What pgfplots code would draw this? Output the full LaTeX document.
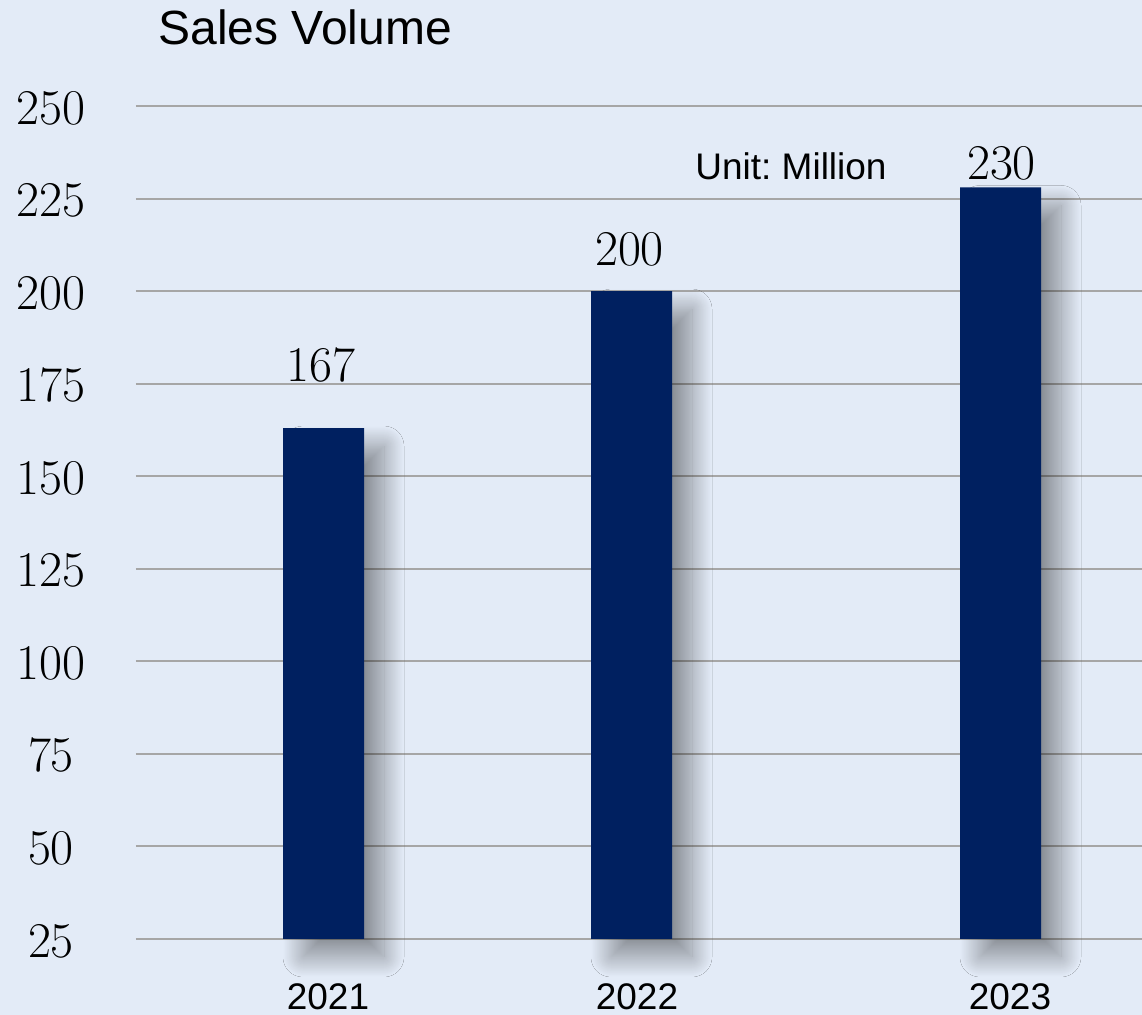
\documentclass[border=0pt]{standalone}
\usepackage{fix-cm}
\usepackage{fontspec}
\setmainfont{Liberation Sans}
\usepackage{pgfplots}
\pgfplotsset{compat=1.18}
\usetikzlibrary{shadows.blur}
\definecolor{bgblue}{HTML}{E3EBF7}
\definecolor{navy}{HTML}{002060}
\definecolor{gridgray}{HTML}{A6A6A6}

\begin{document}
\begin{tikzpicture}
\fill[bgblue] (0,0) rectangle (571pt,507.5pt);
\begin{axis}[
    at={(68pt,38pt)}, anchor=south west,
    scale only axis,
    width=503pt, height=416.5pt,
    xmin=136, xmax=1142,
    ymin=25, ymax=250,
    % bars start at 25, the bottom of the axis
    y coord trafo/.code={\pgfmathparse{#1-25}},
    y coord inv trafo/.code={\pgfmathparse{#1+25}},
    axis line style={draw=none},
    major tick length=0pt,
    ytick={25,50,75,100,125,150,175,200,225,250},
    yticklabels={$25$,$50$,$75$,$100$,$125$,$150$,$175$,$200$,$225$,$250$},
    xtick={328,637,1010},
    xticklabels={2021,2022,2023},
    ymajorgrids,
    grid style={gridgray, line width=1pt},
    xticklabel style={font=\fontsize{18.5}{22}\selectfont, anchor=center, inner sep=0pt, yshift=-29pt},
    yticklabel style={font=\fontsize{25}{30}\selectfont, anchor=center, xshift=-42.5pt, yshift=-1pt},
    clip=false,
]
\addplot[ybar, bar width=81, fill=navy, draw=none,
    blur shadow={shadow xshift=10pt, shadow yshift=-9pt, shadow blur radius=10pt,
      shadow blur steps=40, shadow opacity=40}]
  coordinates {(323.5,163) (631.5,200) (1000.5,228)};
% value labels
\addplot[draw=none, mark=none, nodes near coords={$\pgfplotspointmeta$}, point meta=explicit symbolic,
    nodes near coords style={font=\fontsize{25}{30}\selectfont, anchor=center, text=black}]
  coordinates {(321,180)[167] (629.5,211.4)[200] (1001.5,234.6)[230]};
\end{axis}
\node[font=\fontsize{24}{28}\selectfont, anchor=base west, inner sep=0pt] at (79pt,485pt) {Sales Volume};
\node[font=\fontsize{18.5}{22}\selectfont, anchor=base west, inner sep=0pt] at (347.5pt,417.5pt) {Unit:\ Million};
\pgfresetboundingbox
\path (0,0) rectangle (571pt,507.5pt);
\end{tikzpicture}
\end{document}
